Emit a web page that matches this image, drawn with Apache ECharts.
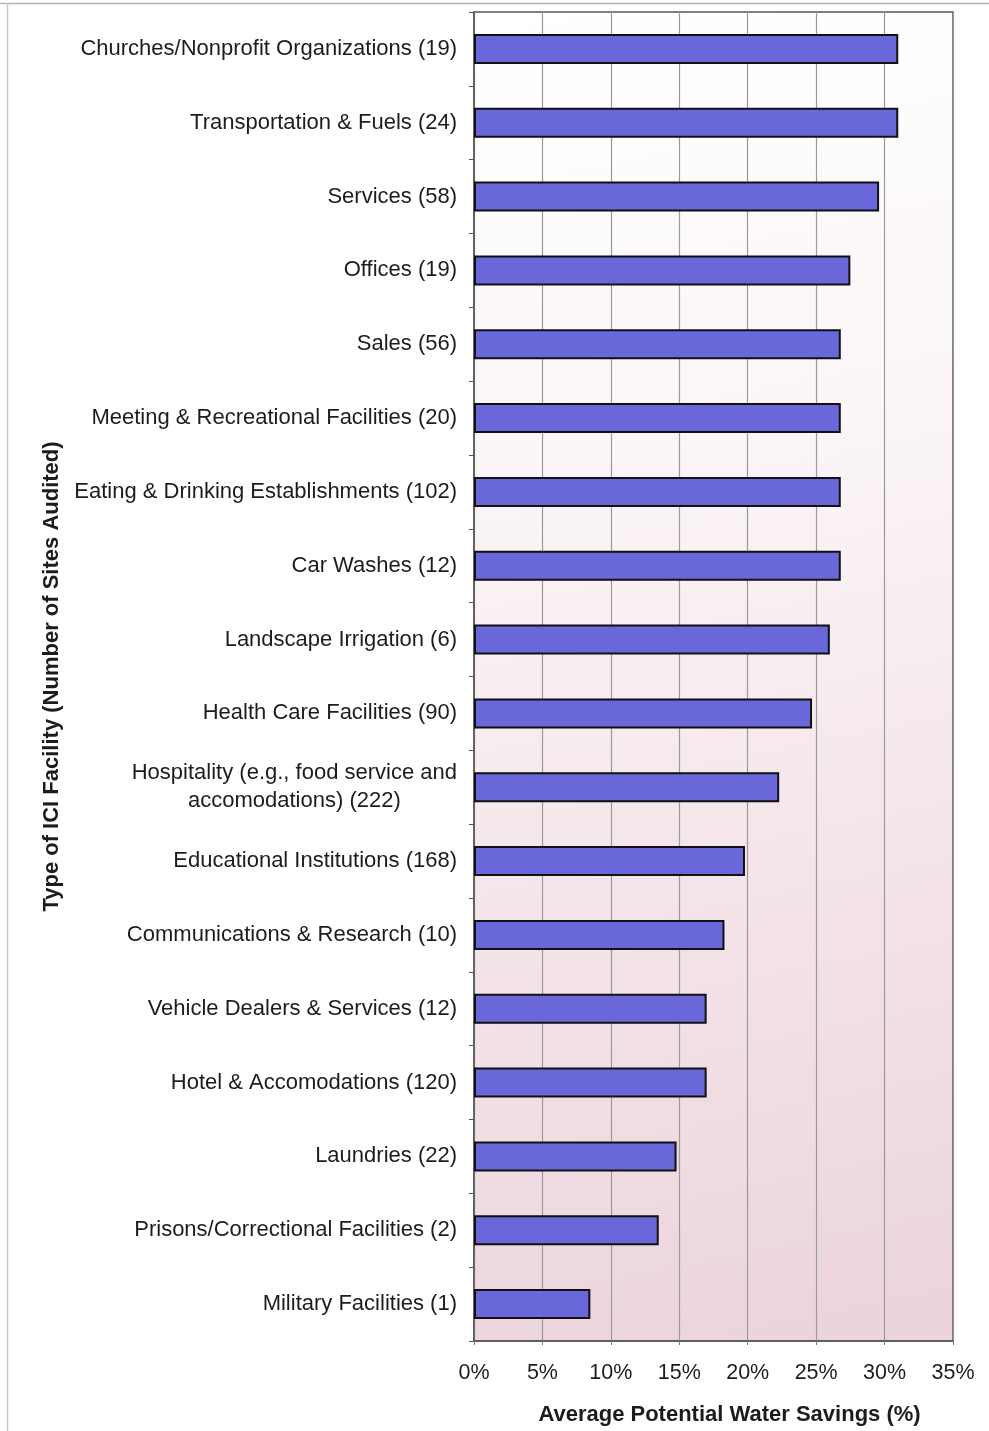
<!DOCTYPE html>
<html>
<head>
<meta charset="utf-8">
<script src="https://cdn.jsdelivr.net/npm/echarts@6/dist/echarts.min.js"></script>
<style>
  html, body { margin: 0; padding: 0; background: #ffffff; }
  #chart { width: 989px; height: 1431px; }
</style>
</head>
<body>
<div id="chart"></div>
<script>
// Facility types, top to bottom, with number of audited sites in parentheses
const categories = [
  'Churches/Nonprofit Organizations (19)',
  'Transportation & Fuels (24)',
  'Services (58)',
  'Offices (19)',
  'Sales (56)',
  'Meeting & Recreational Facilities (20)',
  'Eating & Drinking Establishments (102)',
  'Car Washes (12)',
  'Landscape Irrigation (6)',
  'Health Care Facilities (90)',
  'Hospitality (e.g., food service and\naccomodations) (222)',
  'Educational Institutions (168)',
  'Communications & Research (10)',
  'Vehicle Dealers & Services (12)',
  'Hotel & Accomodations (120)',
  'Laundries (22)',
  'Prisons/Correctional Facilities (2)',
  'Military Facilities (1)'
];

// Average potential water savings (%)
const savings = [
  31.0, 31.0, 29.6, 27.5, 26.8, 26.8, 26.8, 26.8, 26.0,
  24.7, 22.3, 19.8, 18.3, 17.0, 17.0, 14.8, 13.5, 8.5
];

// X axis ticks: 0% .. 35% every 5%
const xMin = 0;
const xMax = 35;
const xStep = 5;

const FONT = '"Liberation Sans", Arial, Helvetica, sans-serif';
const TEXT = '#1c1c1c';
const FS_TICK = 21.5;
const FS_CAT = 22;
const FS_TITLE = 22;

const chart = echarts.init(document.getElementById('chart'));

chart.setOption({
  backgroundColor: '#ffffff',
  animation: false,
  graphic: [
    // thin frame lines around the page
    { type: 'line', shape: { x1: 0, y1: 3.5, x2: 989, y2: 3.5 },
      style: { stroke: '#b5b5b5', lineWidth: 1.5 }, z: 0 },
    { type: 'line', shape: { x1: 7.5, y1: 3, x2: 7.5, y2: 1431 },
      style: { stroke: '#c8c8c8', lineWidth: 1.5 }, z: 0 }
  ],
  grid: {
    left: 474,
    right: 36,
    top: 12,
    bottom: 90,
    show: true,
    borderColor: '#555555',
    borderWidth: 1.5,
    backgroundColor: {
      type: 'linear',
      x: 0, y: 0, x2: 0.55, y2: 1,
      colorStops: [
        { offset: 0, color: '#ffffff' },
        { offset: 0.35, color: '#fbf5f7' },
        { offset: 1, color: '#ecd4dd' }
      ]
    }
  },
  xAxis: {
    type: 'value',
    min: xMin,
    max: xMax,
    interval: xStep,
    name: 'Average Potential Water Savings (%)',
    nameLocation: 'middle',
    nameGap: 63,
    nameTextStyle: {
      fontFamily: FONT, fontSize: FS_TITLE, fontWeight: 'bold', color: TEXT,
      padding: [0, 0, 0, 32]
    },
    axisLine: { show: true, lineStyle: { color: '#555555', width: 1.5 } },
    axisTick: { show: true, length: 4, lineStyle: { color: '#777777' } },
    axisLabel: {
      fontFamily: FONT, fontSize: FS_TICK, color: TEXT, margin: 21,
      formatter: v => v + '%'
    },
    splitLine: { show: true, lineStyle: { color: '#9a9a9a', width: 1.2 } }
  },
  yAxis: {
    type: 'category',
    inverse: true,
    data: categories,
    name: 'Type of ICI Facility (Number of Sites Audited)',
    nameLocation: 'middle',
    nameGap: 411,
    nameTextStyle: {
      fontFamily: FONT, fontSize: FS_TITLE, fontWeight: 'bold', color: TEXT
    },
    axisLine: { show: true, lineStyle: { color: '#555555', width: 1.5 } },
    axisTick: { show: true, length: 5, lineStyle: { color: '#555555' } },
    axisLabel: {
      margin: 17,
      fontFamily: FONT, fontSize: FS_CAT, color: TEXT,
      formatter: v => v.split('\n').map(s => '{c|' + s + '}').join('\n'),
      rich: {
        c: {
          fontFamily: FONT, fontSize: FS_CAT, color: TEXT,
          align: 'center', lineHeight: 28
        }
      }
    },
    splitLine: { show: false }
  },
  series: [{
    type: 'bar',
    data: savings,
    barWidth: 30,
    itemStyle: {
      color: '#6a67da',
      borderColor: '#111111',
      borderWidth: 2
    }
  }]
});
</script>
</body>
</html>
